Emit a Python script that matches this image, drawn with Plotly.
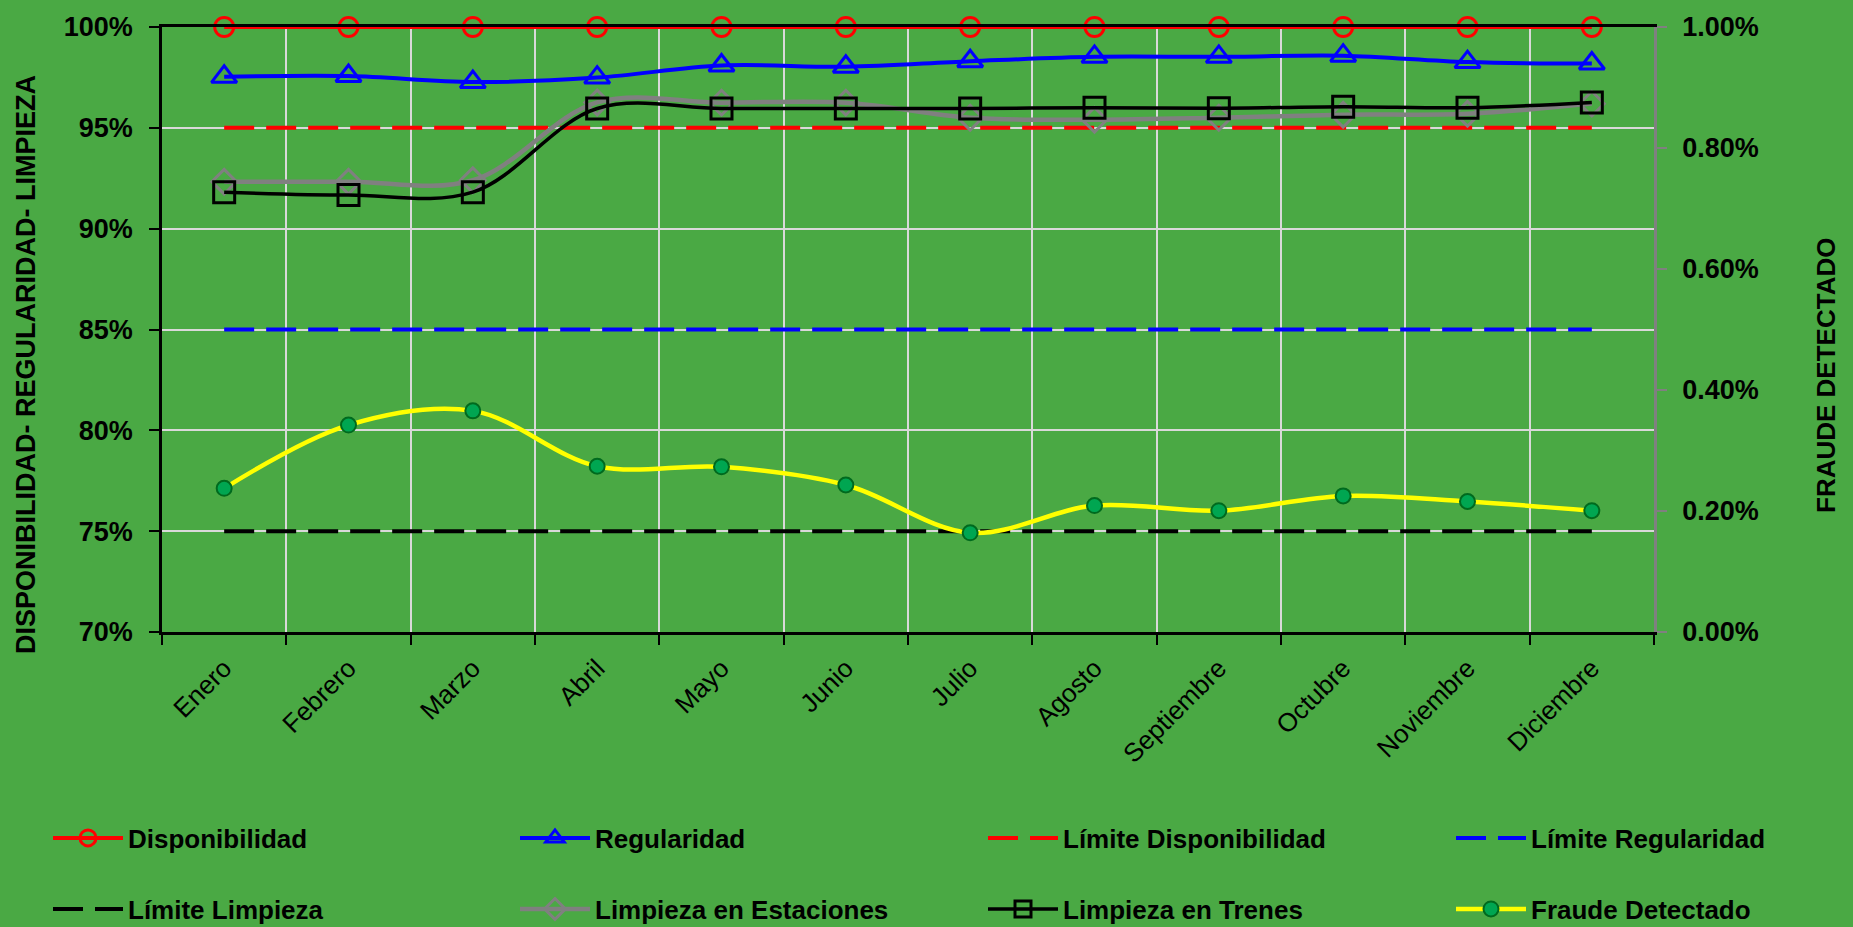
import plotly.graph_objects as go

# Monthly indicators (percent)
meses = ["Enero", "Febrero", "Marzo", "Abril", "Mayo", "Junio", "Julio",
         "Agosto", "Septiembre", "Octubre", "Noviembre", "Diciembre"]

disponibilidad = [100, 100, 100, 100, 100, 100, 100, 100, 100, 100, 100, 100]
regularidad = [97.53, 97.57, 97.27, 97.49, 98.09, 98.03, 98.30, 98.52, 98.52, 98.58, 98.26, 98.19]
limpieza_estaciones = [92.33, 92.33, 92.40, 96.26, 96.25, 96.25, 95.50, 95.40, 95.50, 95.65, 95.70, 96.20]
limpieza_trenes = [91.81, 91.67, 91.81, 95.96, 95.96, 95.96, 95.96, 96.00, 95.97, 96.05, 96.00, 96.26]
fraude_detectado = [0.2375, 0.342, 0.3655, 0.274, 0.273, 0.243, 0.164, 0.209, 0.2005, 0.225, 0.2157, 0.2005]

limite_disponibilidad = [95] * 12
limite_regularidad = [85] * 12
limite_limpieza = [75] * 12

BG = "#4AA944"
FONT = "Liberation Sans, Arial, sans-serif"
W, H = 1853, 927

fig = go.Figure()

# legend slots: 4 columns x 2 rows, one legend per entry
legend_cols = [48, 515, 983, 1451]
legend_rows = [838, 909]
legend_layout = {}


def slot(idx):
    key = "legend" if idx == 0 else f"legend{idx + 1}"
    legend_layout[key] = dict(
        xref="container", yref="container",
        x=legend_cols[idx % 4] / W, y=1 - legend_rows[idx // 4] / H,
        xanchor="left", yanchor="middle", orientation="h",
        bgcolor="rgba(0,0,0,0)", itemwidth=70,
        font=dict(family=FONT, size=26, color="#000000"),
        itemclick=False, itemdoubleclick=False,
    )
    return key


def serie(name, y, color, width, symbol=None, msize=18, dash="solid",
          shape="spline", yaxis="y", mfill=None, mline=None, mlw=3):
    idx = len(fig.data)
    mode = "lines+markers" if symbol else "lines"
    marker = None
    if symbol:
        marker = dict(symbol=symbol, size=msize,
                      color=mfill if mfill else color,
                      line=dict(color=mline if mline else color, width=mlw))
    fig.add_trace(go.Scatter(
        x=meses, y=y, name="<b>" + name + "</b>", mode=mode, yaxis=yaxis,
        legend=slot(idx),
        line=dict(color=color, width=width, dash=dash, shape=shape, smoothing=1),
        marker=marker, cliponaxis=False,
    ))


serie("Disponibilidad", disponibilidad, "#FF0000", 4, symbol="circle-open", msize=19)
serie("Regularidad", regularidad, "#0000FF", 4, symbol="triangle-up-open", msize=22)
serie("Límite Disponibilidad", limite_disponibilidad, "#FF0000", 4, dash="30px,12px", shape="linear")
serie("Límite Regularidad", limite_regularidad, "#0000FF", 4, dash="30px,12px", shape="linear")
serie("Límite Limpieza", limite_limpieza, "#000000", 4, dash="30px,12px", shape="linear")
serie("Limpieza en Estaciones", limpieza_estaciones, "#808080", 4.5, symbol="diamond-open", msize=19)
serie("Limpieza en Trenes", limpieza_trenes, "#000000", 3.5, symbol="square-open", msize=21)
serie("Fraude Detectado", fraude_detectado, "#FFFF00", 4.5, symbol="circle", msize=15,
      yaxis="y2", mfill="#00A651", mline="#006A1E", mlw=2)

tick_font = dict(family=FONT, size=27, color="#000000")

fig.update_layout(
    width=W, height=H,
    paper_bgcolor=BG, plot_bgcolor=BG,
    margin=dict(l=162, r=199, t=20, b=295),
    showlegend=True,
    xaxis=dict(
        type="category", tickson="boundaries", tickangle=-45,
        tickfont=dict(family=FONT, size=26, color="#000000"),
        showgrid=True, gridcolor="#D9D9D9", gridwidth=2,
        showline=True, linecolor="#000000", linewidth=2.5, mirror=True,
        ticks="outside", ticklen=10, tickcolor="#000000", tickwidth=2,
        ticklabelstandoff=8, range=[-0.5, 11.5], zeroline=False,
    ),
    yaxis=dict(
        range=[70, 100], dtick=5, tick0=70, tickprefix="<b>", ticksuffix="%</b>",
        tickformat="d", tickfont=tick_font,
        showgrid=True, gridcolor="#D9D9D9", gridwidth=2,
        showline=True, linecolor="#000000", linewidth=2.5,
        ticks="outside", ticklen=10, tickcolor="#000000", tickwidth=2,
        ticklabelstandoff=11, zeroline=False,
    ),
    yaxis2=dict(
        overlaying="y", side="right", range=[0, 1.0], dtick=0.2, tick0=0,
        tickprefix="<b>", ticksuffix="%</b>", tickformat=".2f", tickfont=tick_font,
        showgrid=False, showline=True, linecolor="#808080", linewidth=2.5,
        ticks="outside", ticklen=10, tickcolor="#808080", tickwidth=2,
        ticklabelstandoff=10, zeroline=False,
    ),
    annotations=[
        dict(text="<b>DISPONIBILIDAD- REGULARIDAD- LIMPIEZA</b>", textangle=-90,
             xref="paper", yref="paper", x=(26 - 162) / 1492, y=(632 - 362) / 612,
             xanchor="center", yanchor="middle", showarrow=False,
             font=dict(family=FONT, size=27, color="#000000")),
        dict(text="<b>FRAUDE DETECTADO</b>", textangle=-90,
             xref="paper", yref="paper", x=(1826 - 162) / 1492, y=(632 - 373) / 612,
             xanchor="center", yanchor="middle", showarrow=False,
             font=dict(family=FONT, size=26, color="#000000")),
    ],
    **legend_layout,
)

fig.write_html("out.html")
